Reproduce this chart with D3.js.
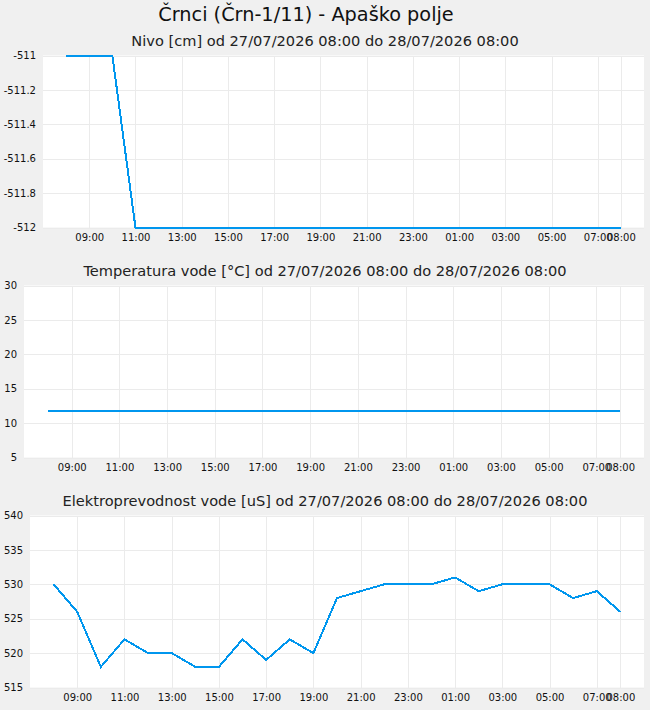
<!DOCTYPE html>
<html>
<head>
<meta charset="utf-8">
<script src="https://cdn.jsdelivr.net/npm/d3@7"></script>
<style>
  body { margin: 0; background: #f0f0f0; }
  svg { display: block; font-family: "DejaVu Sans", sans-serif; }
  .grid line { stroke: #ebebeb; stroke-width: 1; shape-rendering: crispEdges; }
  .tick-label { font-size: 10px; fill: #111; }
  .series { fill: none; stroke: #0096ee; stroke-width: 2; shape-rendering: crispEdges; }
</style>
</head>
<body>
<div id="charts"></div>
<script>
var stationTitle = 'Črnci (Črn-1/11) - Apaško polje';
var period = 'od 27/07/2026 08:00 do 28/07/2026 08:00';

var times = [
  '2026-07-27 08:00', '2026-07-27 09:00', '2026-07-27 10:00', '2026-07-27 11:00',
  '2026-07-27 12:00', '2026-07-27 13:00', '2026-07-27 14:00', '2026-07-27 15:00',
  '2026-07-27 16:00', '2026-07-27 17:00', '2026-07-27 18:00', '2026-07-27 19:00',
  '2026-07-27 20:00', '2026-07-27 21:00', '2026-07-27 22:00', '2026-07-27 23:00',
  '2026-07-28 00:00', '2026-07-28 01:00', '2026-07-28 02:00', '2026-07-28 03:00',
  '2026-07-28 04:00', '2026-07-28 05:00', '2026-07-28 06:00', '2026-07-28 07:00',
  '2026-07-28 08:00'
];

var nivo = [
  -511, -511, -511, -512, -512, -512, -512, -512, -512, -512, -512, -512,
  -512, -512, -512, -512, -512, -512, -512, -512, -512, -512, -512, -512, -512
];

var temperatura = [
  11.8, 11.8, 11.8, 11.8, 11.8, 11.8, 11.8, 11.8, 11.8, 11.8, 11.8, 11.8,
  11.8, 11.8, 11.8, 11.8, 11.8, 11.8, 11.8, 11.8, 11.8, 11.8, 11.8, 11.8, 11.8
];

var prevodnost = [
  530, 526, 518, 522, 520, 520, 518, 518, 522, 519, 522, 520,
  528, 529, 530, 530, 530, 531, 529, 530, 530, 530, 528, 529, 526
];

var xTicks = [
  '2026-07-27 09:00', '2026-07-27 11:00', '2026-07-27 13:00', '2026-07-27 15:00',
  '2026-07-27 17:00', '2026-07-27 19:00', '2026-07-27 21:00', '2026-07-27 23:00',
  '2026-07-28 01:00', '2026-07-28 03:00', '2026-07-28 05:00', '2026-07-28 07:00',
  '2026-07-28 08:00'
];
var xDomain = ['2026-07-27 07:00', '2026-07-28 09:00'];

var nivoTicks = [-512, -511.8, -511.6, -511.4, -511.2, -511];
var tempTicks = [5, 10, 15, 20, 25, 30];
var prevTicks = [515, 520, 525, 530, 535, 540];

var parseTime = d3.timeParse('%Y-%m-%d %H:%M');
var fmtTime = d3.timeFormat('%H:%M');
// plain hyphen instead of the unicode minus d3 uses
var fmtValue = function(v) { return String(+v.toFixed(1)); };

var width = 650, height = 710;

var svg = d3.select('#charts').append('svg')
    .attr('width', width)
    .attr('height', height);

svg.append('text')
    .attr('x', 306)
    .attr('y', 21)
    .attr('text-anchor', 'middle')
    .style('font-size', '19.3px')
    .style('fill', '#111')
    .text(stationTitle);

function panel(cfg) {
  var left = cfg.left, right = 644, top = cfg.top, bottom = cfg.top + 172;
  var g = svg.append('g');

  var x = d3.scaleTime()
      .domain(xDomain.map(parseTime))
      .range([left, right]);
  var y = d3.scaleLinear()
      .domain(d3.extent(cfg.ticks))
      .range([bottom, top]);

  g.append('text')
      .attr('x', 325)
      .attr('y', top - 10)
      .attr('text-anchor', 'middle')
      .style('font-size', '14.6px')
      .style('fill', '#222')
      .text(cfg.title + ' ' + period);

  g.append('rect')
      .attr('x', left).attr('y', top)
      .attr('width', right - left).attr('height', bottom - top)
      .attr('fill', '#fff');

  var grid = g.append('g').attr('class', 'grid');
  grid.selectAll('line.v')
    .data(xTicks.map(parseTime))
    .enter().append('line')
      .attr('class', 'v')
      .attr('x1', function(d) { return Math.round(x(d)) + 0.5; })
      .attr('x2', function(d) { return Math.round(x(d)) + 0.5; })
      .attr('y1', top).attr('y2', bottom);
  grid.selectAll('line.h')
    .data(cfg.ticks)
    .enter().append('line')
      .attr('class', 'h')
      .attr('x1', left).attr('x2', right)
      .attr('y1', function(d) { return Math.round(y(d)) + 0.5; })
      .attr('y2', function(d) { return Math.round(y(d)) + 0.5; });

  var yAxis = d3.axisLeft(y).tickValues(cfg.ticks).tickSize(0).tickPadding(7)
      .tickFormat(fmtValue);
  g.append('g')
      .attr('transform', 'translate(' + left + ',0)')
      .call(yAxis)
      .call(function(a) { a.select('.domain').remove(); })
      .selectAll('text').attr('class', 'tick-label').attr('fill', null);

  var xAxis = d3.axisBottom(x).tickValues(xTicks.map(parseTime)).tickSize(0).tickPadding(6)
      .tickFormat(fmtTime);
  g.append('g')
      .attr('transform', 'translate(0,' + bottom + ')')
      .call(xAxis)
      .call(function(a) { a.select('.domain').remove(); })
      .selectAll('text').attr('class', 'tick-label').attr('fill', null);

  svg.selectAll('g').attr('font-family', null).attr('font-size', null);

  var line = d3.line()
      .x(function(d) { return x(d[0]); })
      .y(function(d) { return y(d[1]); });

  g.append('path')
      .datum(times.map(function(t, i) { return [parseTime(t), cfg.values[i]]; }))
      .attr('class', 'series')
      .attr('d', line);
}

panel({ title: 'Nivo [cm]', values: nivo, ticks: nivoTicks, left: 43, top: 55.5 });
panel({ title: 'Temperatura vode [°C]', values: temperatura, ticks: tempTicks, left: 24, top: 285.5 });
panel({ title: 'Elektroprevodnost vode [uS]', values: prevodnost, ticks: prevTicks, left: 30, top: 515.5 });
</script>
</body>
</html>
